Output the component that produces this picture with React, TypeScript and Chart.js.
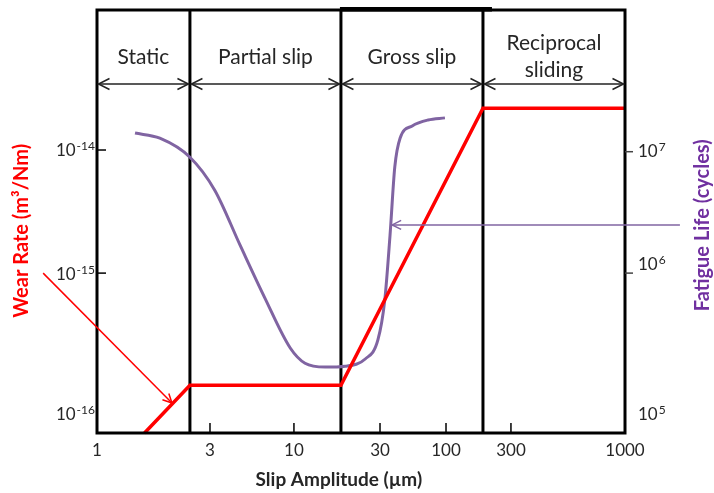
import React, { useEffect, useRef } from 'react';
import { Chart, registerables } from 'chart.js';

Chart.register(...registerables);

const FONT = 'Lato, "Open Sans", sans-serif';
const TEXT = '#262626';

// Schematic axis units: x 0..100 (left edge "1" .. right edge "1000"), y 0..100 (bottom .. top)
const xTickLabels = ['1', '3', '10', '30', '100', '300', '1000'];
const xTickPos = [0, 21.4, 37.3, 53.6, 66.1, 78.4, 100];
const xTickMarked = [false, true, true, true, true, true, false];

const regionLabels = [['Static'], ['Partial slip'], ['Gross slip'], ['Reciprocal', 'sliding']];
const regionBounds = [0, 17.6, 46.2, 73.1, 100];
const headerArrowY = 82.5;
const headerLabelY = 88.9;

const leftExp = ['-14', '-15', '-16'];
const leftLabelPos = [66.8, 37.6, 4.5];
const leftMarkPos = [66.9, 37.8];
const rightExp = ['7', '6', '5'];
const rightLabelPos = [66.6, 40.0, 4.5];
const rightMarkPos = [66.5, 37.8];

// Wear rate (red)
const wearX = [9.0, 17.6, 46.2, 73.1, 100];
const wearY = [0, 11.3, 11.3, 76.8, 76.8];

// Fatigue life (purple)
const lifeX = [7.2, 11.9, 17.6, 22.3, 27.1, 31.8, 36.6, 39.4, 43.2, 47.0, 50.8, 53.2, 54.5, 55.5, 56.4, 57.4, 59.7, 62.7, 65.9];
const lifeY = [70.9, 69.7, 65.2, 57.4, 44.4, 31.9, 20.1, 16.5, 15.6, 15.8, 17.5, 22.0, 31.4, 46.8, 62.9, 69.7, 72.6, 74.0, 74.5];

// Annotation arrows [x1, y1, x2, y2] (arrow head at x2,y2)
const wearArrow = [-10.2, 37.8, 14.2, 7.1];
const lifeArrow = [110.4, 49.2, 55.9, 49.2];

const RED = '#FF0000';
const PURPLE = '#8064A2';
const PURPLE_TITLE = '#7030A0';

function line(ctx: CanvasRenderingContext2D, x1: number, y1: number, x2: number, y2: number) {
  ctx.beginPath();
  ctx.moveTo(x1, y1);
  ctx.lineTo(x2, y2);
  ctx.stroke();
}

function arrowHead(ctx: CanvasRenderingContext2D, tx: number, ty: number, angle: number, len: number, half: number) {
  const cos = Math.cos(angle), sin = Math.sin(angle);
  const bx = tx - cos * len, by = ty - sin * len;
  const px = -sin * half, py = cos * half;
  ctx.beginPath();
  ctx.moveTo(bx + px, by + py);
  ctx.lineTo(tx, ty);
  ctx.lineTo(bx - px, by - py);
  ctx.stroke();
}

function drawPow(ctx: CanvasRenderingContext2D, exp: string, x: number, yc: number, align: 'left' | 'right') {
  ctx.textBaseline = 'alphabetic';
  ctx.textAlign = 'left';
  ctx.font = `17px ${FONT}`;
  const w1 = ctx.measureText('10').width;
  ctx.font = `12px ${FONT}`;
  const w2 = ctx.measureText(exp).width;
  const start = align === 'right' ? x - w1 - w2 - 1 : x;
  const base = yc + 6;
  ctx.font = `17px ${FONT}`;
  ctx.fillText('10', start, base);
  ctx.font = `12px ${FONT}`;
  ctx.fillText(exp, start + w1 + 1, base - 6);
}

const schematicPlugin = {
  id: 'schematic',
  beforeDatasetsDraw(chart: any) {
    const { ctx, chartArea: a, scales } = chart;
    const x = scales.x;
    ctx.save();
    ctx.strokeStyle = '#000';
    ctx.lineWidth = 3;
    regionBounds.slice(1, -1).forEach((b) => {
      const px = x.getPixelForValue(b);
      line(ctx, px, a.top, px, a.bottom);
    });
    ctx.restore();
  },
  afterDatasetsDraw(chart: any) {
    const { ctx, chartArea: a, scales } = chart;
    const x = scales.x, y = scales.y;
    ctx.save();

    // frame
    ctx.strokeStyle = '#000';
    ctx.lineWidth = 3;
    ctx.strokeRect(a.left, a.top, a.right - a.left, a.bottom - a.top);
    ctx.lineWidth = 4.5;
    line(ctx, x.getPixelForValue(regionBounds[2]) - 1, a.top - 0.7, x.getPixelForValue(regionBounds[3]) + 9, a.top - 0.7);

    // header double arrows
    ctx.strokeStyle = '#222';
    ctx.lineWidth = 1.5;
    const hy = y.getPixelForValue(headerArrowY);
    for (let i = 0; i < regionBounds.length - 1; i++) {
      const l = x.getPixelForValue(regionBounds[i]) + 1.5;
      const r = x.getPixelForValue(regionBounds[i + 1]) - 1.5;
      line(ctx, l, hy, r, hy);
      arrowHead(ctx, l, hy, Math.PI, 11, 5.5);
      arrowHead(ctx, r, hy, 0, 11, 5.5);
    }

    // region labels
    ctx.fillStyle = TEXT;
    ctx.font = `21px ${FONT}`;
    ctx.textAlign = 'center';
    ctx.textBaseline = 'middle';
    const ly = y.getPixelForValue(headerLabelY);
    regionLabels.forEach((lines, i) => {
      const cx = (x.getPixelForValue(regionBounds[i]) + x.getPixelForValue(regionBounds[i + 1])) / 2;
      const lh = 27;
      lines.forEach((t, j) => {
        ctx.fillText(t, cx, ly + (j - (lines.length - 1) / 2) * lh);
      });
    });

    // tick marks
    ctx.strokeStyle = '#000';
    ctx.lineWidth = 1.5;
    xTickPos.forEach((v, i) => {
      if (!xTickMarked[i]) return;
      const px = x.getPixelForValue(v);
      line(ctx, px, a.bottom, px, a.bottom - 10);
    });
    leftMarkPos.forEach((v) => {
      const py = y.getPixelForValue(v);
      line(ctx, a.left, py, a.left + 9, py);
    });
    ctx.strokeStyle = '#444';
    rightMarkPos.forEach((v) => {
      const py = y.getPixelForValue(v);
      line(ctx, a.right, py, a.right + 8, py);
    });

    // tick labels
    ctx.fillStyle = TEXT;
    ctx.font = `17px ${FONT}`;
    ctx.textAlign = 'center';
    ctx.textBaseline = 'middle';
    xTickPos.forEach((v, i) => {
      ctx.fillText(xTickLabels[i], x.getPixelForValue(v), a.bottom + 18);
    });
    leftExp.forEach((e, i) => drawPow(ctx, e, a.left - 2, y.getPixelForValue(leftLabelPos[i]), 'right'));
    rightExp.forEach((e, i) => drawPow(ctx, e, a.right + 13, y.getPixelForValue(rightLabelPos[i]), 'left'));

    // annotation arrows
    ctx.strokeStyle = RED;
    ctx.lineWidth = 1.5;
    {
      const [x1, y1, x2, y2] = wearArrow;
      const p1x = x.getPixelForValue(x1), p1y = y.getPixelForValue(y1);
      const p2x = x.getPixelForValue(x2), p2y = y.getPixelForValue(y2);
      line(ctx, p1x, p1y, p2x, p2y);
      arrowHead(ctx, p2x, p2y, Math.atan2(p2y - p1y, p2x - p1x), 9, 4.5);
    }
    ctx.strokeStyle = PURPLE;
    ctx.lineWidth = 1.5;
    {
      const [x1, y1, x2, y2] = lifeArrow;
      const p1x = x.getPixelForValue(x1), p1y = y.getPixelForValue(y1);
      const p2x = x.getPixelForValue(x2), p2y = y.getPixelForValue(y2);
      line(ctx, p1x, p1y, p2x, p2y);
      arrowHead(ctx, p2x, p2y, Math.atan2(p2y - p1y, p2x - p1x), 9, 4.5);
    }

    // axis titles
    ctx.textAlign = 'center';
    ctx.textBaseline = 'middle';
    ctx.font = `bold 19px ${FONT}`;
    ctx.fillStyle = TEXT;
    ctx.fillText('Slip Amplitude (µm)', x.getPixelForValue(45.8), a.bottom + 47);

    ctx.save();
    ctx.translate(a.left - 75, y.getPixelForValue(47.8));
    ctx.rotate(-Math.PI / 2);
    ctx.fillStyle = RED;
    ctx.font = `bold 20px ${FONT}`;
    ctx.fillText('Wear Rate (m³/Nm)', 0, 0);
    ctx.restore();

    ctx.save();
    ctx.translate(a.right + 78, y.getPixelForValue(49.1));
    ctx.rotate(-Math.PI / 2);
    ctx.fillStyle = PURPLE_TITLE;
    ctx.font = `bold 20px ${FONT}`;
    ctx.fillText('Fatigue Life (cycles)', 0, 0);
    ctx.restore();

    ctx.restore();
  },
};

export default function App() {
  const ref = useRef<HTMLCanvasElement>(null);
  useEffect(() => {
    const chart = new Chart(ref.current as HTMLCanvasElement, {
      type: 'line',
      data: {
        datasets: [
          {
            label: 'Wear Rate',
            data: wearX.map((v, i) => ({ x: v, y: wearY[i] })),
            borderColor: RED,
            borderWidth: 3.5,
            pointRadius: 0,
            tension: 0,
            clip: false as any,
            order: 1,
          },
          {
            label: 'Fatigue Life',
            data: lifeX.map((v, i) => ({ x: v, y: lifeY[i] })),
            borderColor: PURPLE,
            borderWidth: 3,
            pointRadius: 0,
            cubicInterpolationMode: 'monotone',
            clip: false as any,
            order: 2,
          },
        ],
      },
      options: {
        responsive: false,
        animation: false,
        devicePixelRatio: 1,
        layout: { padding: { left: 97, right: 89, top: 10, bottom: 60 } },
        plugins: { legend: { display: false }, tooltip: { enabled: false } },
        scales: {
          x: { type: 'linear', min: 0, max: 100, display: false },
          y: { type: 'linear', min: 0, max: 100, display: false },
        },
      },
      plugins: [schematicPlugin],
    });
    return () => chart.destroy();
  }, []);
  return (
    <div style={{ position: 'fixed', left: 0, top: 0, width: 714, height: 493, background: '#fff' }}>
      <canvas ref={ref} width={714} height={493} style={{ display: 'block', width: 714, height: 493 }} />
    </div>
  );
}
